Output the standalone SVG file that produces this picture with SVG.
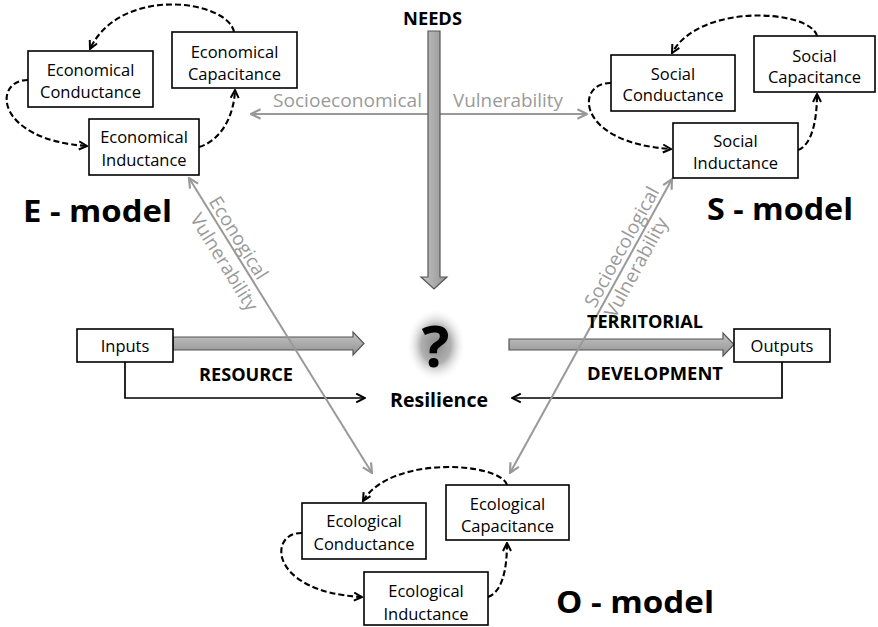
<svg xmlns="http://www.w3.org/2000/svg" width="878" height="627" viewBox="0 0 878 627">
<defs>
<style>
.box{fill:#fff;stroke:#000;stroke-width:1.6}
.bt{font-family:"Open Sans","Liberation Sans",sans-serif;font-size:16.5px;fill:#000;text-anchor:middle}
.bold{font-family:"Open Sans","Liberation Sans",sans-serif;font-weight:700;fill:#000}
.gt{font-family:"Open Sans","Liberation Sans",sans-serif;font-size:19px;fill:#9a9a9a}
.dash{fill:none;stroke:#000;stroke-width:2.1;stroke-dasharray:6 3;marker-end:url(#ah)}
.gray{fill:none;stroke:#999;stroke-width:2;marker-start:url(#gs);marker-end:url(#ge)}
.blk{fill:none;stroke:#000;stroke-width:1.7;marker-end:url(#bh)}
.fat{stroke:#555;stroke-width:1.2}
</style>
<marker id="ah" viewBox="0 0 10 10" refX="9" refY="5" markerWidth="10" markerHeight="10" markerUnits="userSpaceOnUse" orient="auto"><path d="M1,1 L9,5 L1,9" fill="none" stroke="#000" stroke-width="2"/></marker>
<marker id="bh" viewBox="0 0 10 10" refX="9" refY="5" markerWidth="11" markerHeight="11" markerUnits="userSpaceOnUse" orient="auto"><path d="M1,1 L9,5 L1,9" fill="none" stroke="#000" stroke-width="1.8"/></marker>
<marker id="ge" viewBox="0 0 10 10" refX="9" refY="5" markerWidth="12" markerHeight="12" markerUnits="userSpaceOnUse" orient="auto"><path d="M1,1 L9,5 L1,9" fill="none" stroke="#999" stroke-width="1.8"/></marker>
<marker id="gs" viewBox="0 0 10 10" refX="1" refY="5" markerWidth="12" markerHeight="12" markerUnits="userSpaceOnUse" orient="auto"><path d="M9,1 L1,5 L9,9" fill="none" stroke="#999" stroke-width="1.8"/></marker>
<linearGradient id="gh" x1="0" y1="0" x2="0" y2="1"><stop offset="0" stop-color="#c4c4c4"/><stop offset="1" stop-color="#939393"/></linearGradient>
<linearGradient id="gv" x1="0" y1="0" x2="1" y2="0"><stop offset="0" stop-color="#c4c4c4"/><stop offset="1" stop-color="#939393"/></linearGradient>
<radialGradient id="glow" cx="0.5" cy="0.5" r="0.5"><stop offset="0" stop-color="#8a8a8a"/><stop offset="0.5" stop-color="#b0b0b0"/><stop offset="1" stop-color="#fff" stop-opacity="0"/></radialGradient>
</defs>
<rect width="878" height="627" fill="#fff"/>

<g id="connectors">
<path class="gray" d="M251,114 H587"/>
<text class="gt" x="273" y="107" textLength="149" lengthAdjust="spacingAndGlyphs">Socioeconomical</text>
<text class="gt" x="453" y="107" textLength="110" lengthAdjust="spacingAndGlyphs">Vulnerability</text>
<polygon class="fat" fill="url(#gv)" points="428,31 440,31 440,277 447,277 434,289 421,277 428,277"/>
<polygon class="fat" fill="url(#gh)" points="173,337 353,337 353,332 364,343.5 353,355 353,350 173,350"/>
<polygon class="fat" fill="url(#gh)" points="509,339 723,339 723,333 734,344.5 723,356 723,350 509,350"/>
<path class="blk" d="M125,362 V398 H365"/>
<path class="blk" d="M782,362 V398 H512"/>
<path class="gray" d="M189,178 L372,473"/>
<path class="gray" d="M672,179 L510,473"/>
<g transform="translate(189,178) rotate(58.2)">
<text class="gt" x="77" y="-4" text-anchor="middle">Econogical</text>
<text class="gt" x="90" y="21" text-anchor="middle">Vulnerability</text>
</g>
<g transform="translate(510,473) rotate(-61.2)">
<text class="gt" x="252" y="-4.5" text-anchor="middle">Socioecological</text>
<text class="gt" x="241" y="18" text-anchor="middle">Vulnerability</text>
</g>
<path class="dash" d="M234,32 C228,0 120,-15 90,49"/>
<path class="dash" d="M28,80 C-8,80 -5,140 87,146"/>
<path class="dash" d="M199,147 C222,140 234,115 235,90"/>
<path class="dash" d="M817,36 C811,10 700,2 672,53"/>
<path class="dash" d="M611,83 C575,82 575,143 671,149"/>
<path class="dash" d="M798,150 C812,145 817,120 817,94"/>
<path class="dash" d="M507,485 C500,462 390,455 363,501"/>
<path class="dash" d="M302,533 C268,532 268,592 362,597"/>
<path class="dash" d="M488,597 C502,592 507,570 507,543"/>
</g>

<g id="e-conductance"><rect class="box" x="28" y="51" width="125" height="56"/><text class="bt" x="90.5" y="76">Economical</text><text class="bt" x="90.5" y="98">Conductance</text></g>
<g id="e-capacitance"><rect class="box" x="172" y="32" width="125" height="56"/><text class="bt" x="234.5" y="58">Economical</text><text class="bt" x="234.5" y="80">Capacitance</text></g>
<g id="e-inductance"><rect class="box" x="89" y="119" width="110" height="56"/><text class="bt" x="144" y="143">Economical</text><text class="bt" x="144" y="166">Inductance</text></g>
<g id="e-model"><text class="bold" x="23" y="222" font-size="31" textLength="149" lengthAdjust="spacingAndGlyphs">E - model</text></g>

<g id="s-conductance"><rect class="box" x="611" y="55" width="124" height="56"/><text class="bt" x="673" y="80">Social</text><text class="bt" x="673" y="101">Conductance</text></g>
<g id="s-capacitance"><rect class="box" x="754" y="36" width="121" height="56"/><text class="bt" x="814.5" y="62">Social</text><text class="bt" x="814.5" y="83">Capacitance</text></g>
<g id="s-inductance"><rect class="box" x="673" y="123" width="125" height="55"/><text class="bt" x="735.5" y="147">Social</text><text class="bt" x="735.5" y="169">Inductance</text></g>
<g id="s-model"><text class="bold" x="707" y="220" font-size="31" textLength="146" lengthAdjust="spacingAndGlyphs">S - model</text></g>

<g id="o-conductance"><rect class="box" x="302" y="503" width="124" height="56"/><text class="bt" x="364" y="527">Ecological</text><text class="bt" x="364" y="550">Conductance</text></g>
<g id="o-capacitance"><rect class="box" x="446" y="485" width="123" height="55"/><text class="bt" x="507.5" y="510">Ecological</text><text class="bt" x="507.5" y="532">Capacitance</text></g>
<g id="o-inductance"><rect class="box" x="364" y="572" width="124" height="53"/><text class="bt" x="426" y="597">Ecological</text><text class="bt" x="426" y="620">Inductance</text></g>
<g id="o-model"><text class="bold" x="556" y="613" font-size="31" textLength="158" lengthAdjust="spacingAndGlyphs">O - model</text></g>

<g id="inputs"><rect class="box" x="77" y="329" width="96" height="33"/><text class="bt" x="125" y="352">Inputs</text></g>
<g id="outputs"><rect class="box" x="734" y="329" width="96" height="33"/><text class="bt" x="782" y="352">Outputs</text></g>

<g id="needs"><text class="bold" x="403" y="25" font-size="17" textLength="59" lengthAdjust="spacingAndGlyphs">NEEDS</text></g>
<g id="resource"><text class="bold" x="199" y="381" font-size="18" textLength="94" lengthAdjust="spacingAndGlyphs">RESOURCE</text></g>
<g id="territorial"><text class="bold" x="587" y="328" font-size="18" textLength="116" lengthAdjust="spacingAndGlyphs">TERRITORIAL</text></g>
<g id="development"><text class="bold" x="587" y="380" font-size="18" textLength="136" lengthAdjust="spacingAndGlyphs">DEVELOPMENT</text></g>

<g id="resilience">
<ellipse cx="436" cy="345" rx="30" ry="37" fill="url(#glow)"/>
<text class="bold" x="435.5" y="367" font-size="58" text-anchor="middle">?</text>
<text class="bold" x="390" y="407" font-size="19" textLength="98" lengthAdjust="spacingAndGlyphs">Resilience</text>
</g>
</svg>
